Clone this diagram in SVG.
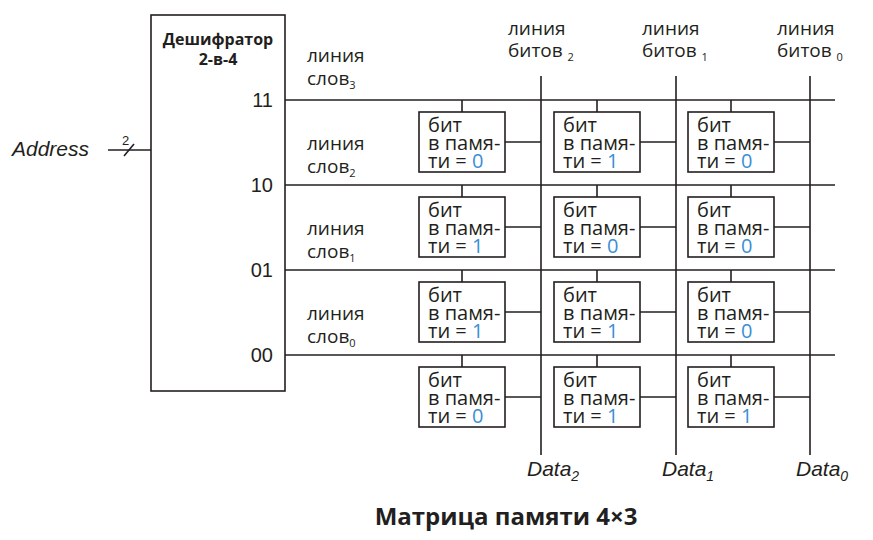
<svg xmlns="http://www.w3.org/2000/svg" width="873" height="540" viewBox="0 0 873 540">
<style>
text{font-family:"Open Sans","Noto Sans","Liberation Sans",sans-serif;fill:#231f20}
.l{font-size:19px}
.c{font-size:20px}
.v{fill:#3a8fd6}
.n{font-size:20px;font-family:"Liberation Sans",Arial,sans-serif}
.i{font-style:italic;font-size:21px;font-family:"Liberation Sans",Arial,sans-serif}
.s{font-size:11px}
line,rect,path{stroke:#231f20;stroke-width:1.6;fill:none}
rect{fill:#fff}
</style>
<defs>
<g id="cell">
<line x1="43" y1="-12" x2="43" y2="0"/>
<rect x="0" y="0" width="86" height="60"/>
</g>
</defs>
<g id="decoder">
<rect x="151" y="15" width="134" height="376"/>
<text x="218" y="45" text-anchor="middle" style="font-size:16px;font-weight:bold">Дешифратор</text>
<text x="218" y="65" text-anchor="middle" style="font-size:16px;font-weight:bold">2-в-4</text>
<text class="n" x="273" y="107" text-anchor="end">11</text>
<text class="n" x="273" y="192" text-anchor="end">10</text>
<text class="n" x="273" y="277" text-anchor="end">01</text>
<text class="n" x="273" y="362" text-anchor="end">00</text>
</g>
<g id="address">
<text class="i" x="12" y="156">Address</text>
<line x1="108" y1="150" x2="151" y2="150"/>
<line x1="124" y1="156" x2="134" y2="144"/>
<text x="122" y="145" style="font-size:13px;font-family:'Liberation Sans',sans-serif">2</text>
</g>
<g id="connectors">
<line x1="285" y1="100" x2="835" y2="100"/>
<line x1="285" y1="185" x2="835" y2="185"/>
<line x1="285" y1="270" x2="835" y2="270"/>
<line x1="285" y1="355" x2="835" y2="355"/>
<line x1="541" y1="76" x2="541" y2="455"/>
<line x1="676" y1="76" x2="676" y2="455"/>
<line x1="810" y1="76" x2="810" y2="455"/>
<line x1="505" y1="142" x2="541" y2="142"/><line x1="640" y1="142" x2="676" y2="142"/><line x1="774" y1="142" x2="810" y2="142"/>
<line x1="505" y1="227" x2="541" y2="227"/><line x1="640" y1="227" x2="676" y2="227"/><line x1="774" y1="227" x2="810" y2="227"/>
<line x1="505" y1="312" x2="541" y2="312"/><line x1="640" y1="312" x2="676" y2="312"/><line x1="774" y1="312" x2="810" y2="312"/>
<line x1="505" y1="397" x2="541" y2="397"/><line x1="640" y1="397" x2="676" y2="397"/><line x1="774" y1="397" x2="810" y2="397"/>
</g>
<g id="wordlabels">
<text class="l" x="307" y="62">линия</text><text class="l" x="307" y="85">слов<tspan class="s" dy="4">3</tspan></text>
<text class="l" x="307" y="150">линия</text><text class="l" x="307" y="173">слов<tspan class="s" dy="4">2</tspan></text>
<text class="l" x="307" y="235">линия</text><text class="l" x="307" y="258">слов<tspan class="s" dy="4">1</tspan></text>
<text class="l" x="307" y="320">линия</text><text class="l" x="307" y="343">слов<tspan class="s" dy="4">0</tspan></text>
</g>
<g id="bitlabels">
<text class="l" x="508" y="35">линия</text><text class="l" x="508" y="57">битов <tspan class="s" dy="4">2</tspan></text>
<text class="l" x="642" y="35">линия</text><text class="l" x="642" y="57">битов <tspan class="s" dy="4">1</tspan></text>
<text class="l" x="777" y="35">линия</text><text class="l" x="777" y="57">битов <tspan class="s" dy="4">0</tspan></text>
</g>
<g id="cells">
<g id="c30"><use href="#cell" x="419" y="112"/><text class="c" x="428" y="132">бит</text><text class="c" x="428" y="150">в памя-</text><text class="c" x="428" y="168">ти = <tspan class="v">0</tspan></text></g>
<g id="c31"><use href="#cell" x="554" y="112"/><text class="c" x="563" y="132">бит</text><text class="c" x="563" y="150">в памя-</text><text class="c" x="563" y="168">ти = <tspan class="v">1</tspan></text></g>
<g id="c32"><use href="#cell" x="688" y="112"/><text class="c" x="697" y="132">бит</text><text class="c" x="697" y="150">в памя-</text><text class="c" x="697" y="168">ти = <tspan class="v">0</tspan></text></g>
<g id="c20"><use href="#cell" x="419" y="197"/><text class="c" x="428" y="217">бит</text><text class="c" x="428" y="235">в памя-</text><text class="c" x="428" y="253">ти = <tspan class="v">1</tspan></text></g>
<g id="c21"><use href="#cell" x="554" y="197"/><text class="c" x="563" y="217">бит</text><text class="c" x="563" y="235">в памя-</text><text class="c" x="563" y="253">ти = <tspan class="v">0</tspan></text></g>
<g id="c22"><use href="#cell" x="688" y="197"/><text class="c" x="697" y="217">бит</text><text class="c" x="697" y="235">в памя-</text><text class="c" x="697" y="253">ти = <tspan class="v">0</tspan></text></g>
<g id="c10"><use href="#cell" x="419" y="282"/><text class="c" x="428" y="302">бит</text><text class="c" x="428" y="320">в памя-</text><text class="c" x="428" y="338">ти = <tspan class="v">1</tspan></text></g>
<g id="c11"><use href="#cell" x="554" y="282"/><text class="c" x="563" y="302">бит</text><text class="c" x="563" y="320">в памя-</text><text class="c" x="563" y="338">ти = <tspan class="v">1</tspan></text></g>
<g id="c12"><use href="#cell" x="688" y="282"/><text class="c" x="697" y="302">бит</text><text class="c" x="697" y="320">в памя-</text><text class="c" x="697" y="338">ти = <tspan class="v">0</tspan></text></g>
<g id="c00"><use href="#cell" x="419" y="367"/><text class="c" x="428" y="387">бит</text><text class="c" x="428" y="405">в памя-</text><text class="c" x="428" y="423">ти = <tspan class="v">0</tspan></text></g>
<g id="c01"><use href="#cell" x="554" y="367"/><text class="c" x="563" y="387">бит</text><text class="c" x="563" y="405">в памя-</text><text class="c" x="563" y="423">ти = <tspan class="v">1</tspan></text></g>
<g id="c02"><use href="#cell" x="688" y="367"/><text class="c" x="697" y="387">бит</text><text class="c" x="697" y="405">в памя-</text><text class="c" x="697" y="423">ти = <tspan class="v">1</tspan></text></g>
</g>
<g id="datalabels">
<text class="i" x="527" y="476">Data<tspan style="font-size:14px" dy="5">2</tspan></text>
<text class="i" x="662" y="476">Data<tspan style="font-size:14px" dy="5">1</tspan></text>
<text class="i" x="796" y="476">Data<tspan style="font-size:14px" dy="5">0</tspan></text>
</g>
<text x="506" y="525" text-anchor="middle" style="font-size:24px;font-weight:bold">Матрица памяти 4×3</text>
</svg>
